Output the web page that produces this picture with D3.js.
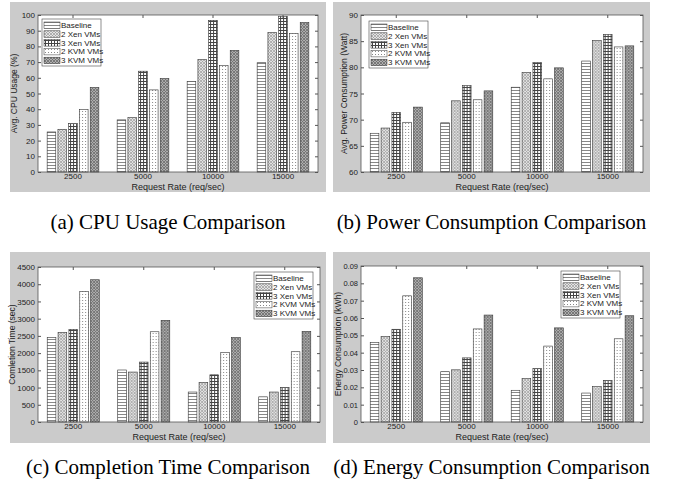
<!DOCTYPE html>
<html>
<head>
<meta charset="utf-8">
<script src="https://cdn.jsdelivr.net/npm/d3@7"></script>
<style>
  body { margin: 0; background: #fff; }
  text { font-family: "Liberation Sans", Arial, sans-serif; fill: #222; }
  .caption { font-family: "Liberation Serif", "Times New Roman", serif; fill: #000; }
</style>
</head>
<body>
<div id="vis"></div>
<script>
// categories and series
const categories = ["2500", "5000", "10000", "15000"];
const seriesNames = ["Baseline", "2 Xen VMs", "3 Xen VMs", "2 KVM VMs", "3 KVM VMs"];

// values per category, one per series (Baseline, 2 Xen, 3 Xen, 2 KVM, 3 KVM)
const cpuUsage = [
  [25.5, 27.2, 30.8, 39.8, 53.8],
  [33.2, 34.6, 64.2, 52.3, 59.5],
  [57.6, 71.6, 96.6, 67.8, 77.4],
  [69.6, 88.8, 99.2, 88.2, 95.2]
];
const powerConsumption = [
  [67.4, 68.4, 71.4, 69.5, 72.4],
  [69.4, 73.6, 76.5, 73.8, 75.5],
  [76.2, 79.0, 80.9, 77.8, 79.9],
  [81.2, 85.1, 86.3, 83.9, 84.1]
];
const completionTime = [
  [2450, 2600, 2690, 3790, 4130],
  [1510, 1450, 1740, 2620, 2950],
  [870, 1150, 1370, 2020, 2450],
  [730, 870, 1000, 2040, 2630]
];
const energyConsumption = [
  [0.0458, 0.0493, 0.0535, 0.0728, 0.0832],
  [0.0290, 0.0301, 0.0370, 0.0537, 0.0617],
  [0.0183, 0.0250, 0.0308, 0.0438, 0.0543],
  [0.0167, 0.0204, 0.0239, 0.0480, 0.0613]
];

// tick values
const cpuTicks = d3.range(0, 101, 10);
const powerTicks = d3.range(60, 91, 5);
const timeTicks = d3.range(0, 4501, 500);
const energyTicks = d3.range(0, 10).map(i => i / 100);

const svg = d3.select("#vis").append("svg")
  .attr("width", 674).attr("height", 480);

// hatch patterns, one per series
const defs = svg.append("defs");
function pattern(id, size, bg, draw) {
  const p = defs.append("pattern").attr("id", id)
    .attr("patternUnits", "userSpaceOnUse")
    .attr("width", size).attr("height", size);
  p.append("rect").attr("width", size).attr("height", size).attr("fill", bg);
  draw(p);
}
pattern("p0", 3, "#fff", p => {
  p.append("line").attr("x1", 0).attr("x2", 3).attr("y1", 0.5).attr("y2", 0.5)
    .attr("stroke", "#888").attr("stroke-width", 1);
});
pattern("p1", 3, "#e4e4e4", p => {
  p.append("path").attr("d", "M0,3L3,0M0,0L3,3").attr("stroke", "#999").attr("stroke-width", 0.7);
});
pattern("p2", 3, "#fff", p => {
  p.append("path").attr("d", "M0,0.5H3M0.5,0V3").attr("stroke", "#444").attr("stroke-width", 1);
});
pattern("p3", 3, "#fff", p => {
  p.append("rect").attr("x", 0).attr("y", 0).attr("width", 1).attr("height", 1).attr("fill", "#888");
});
pattern("p4", 3, "#b0b0b0", p => {
  p.append("path").attr("d", "M0,3L3,0M0,0L3,3").attr("stroke", "#6a6a6a").attr("stroke-width", 0.8);
});
const fills = seriesNames.map((s, i) => `url(#p${i})`);

const panels = [
  { data: cpuUsage, ticks: cpuTicks, domain: [0, 100], fmt: d3.format("d"), ylabel: "Avg. CPU Usage (%)",
    gray: [10, 2, 316, 190], plot: [38, 15, 280, 157], ylabX: -24, tickFont: 8, legendPos: [4, 4],
    caption: "(a) CPU Usage Comparison", capY: 229 },
  { data: powerConsumption, ticks: powerTicks, domain: [60, 90], fmt: d3.format("d"), ylabel: "Avg. Power Consumption (Watt)",
    gray: [333, 2, 317, 190], plot: [361, 15, 282, 157], ylabX: -17, tickFont: 8, legendPos: [8, 6],
    caption: "(b) Power Consumption Comparison", capY: 229 },
  { data: completionTime, ticks: timeTicks, domain: [0, 4500], fmt: d3.format("d"), ylabel: "Comletion Time (sec)",
    gray: [10, 252, 316, 191], plot: [38, 267, 282, 155], ylabX: -26, tickFont: 8, legendPos: [216, 5],
    caption: "(c) Completion Time Comparison", capY: 474 },
  { data: energyConsumption, ticks: energyTicks, domain: [0, 0.09], fmt: d => d === 0 ? "0" : d3.format(".2f")(d), ylabel: "Energy Consumption (kWh)",
    gray: [333, 252, 317, 191], plot: [361, 266, 282, 156], ylabX: -23, tickFont: 7.5, legendPos: [200, 5],
    caption: "(d) Energy Consumption Comparison", capY: 474 }
];

panels.forEach(p => {
  const [gx, gy, gw, gh] = p.gray;
  const [px, py, pw, ph] = p.plot;

  svg.append("rect").attr("x", gx).attr("y", gy).attr("width", gw).attr("height", gh).attr("fill", "#cbcbcb");
  svg.append("rect").attr("x", px).attr("y", py).attr("width", pw).attr("height", ph).attr("fill", "#fff");

  const g = svg.append("g").attr("transform", `translate(${px},${py})`);

  const x0 = d3.scaleBand().domain(categories).range([0, pw]);
  const groupW = x0.bandwidth() * 5 / 6.5;
  const x1 = d3.scaleBand().domain(seriesNames).range([0, groupW]).paddingInner(0.2).paddingOuter(0.1);
  const y = d3.scaleLinear().domain(p.domain).range([ph, 0]);

  // bars
  const groups = g.selectAll("g.grp").data(p.data).join("g")
    .attr("transform", (d, i) => `translate(${x0(categories[i]) + (x0.bandwidth() - groupW) / 2},0)`);
  groups.selectAll("rect").data(d => d.map((v, j) => ({ v, s: seriesNames[j], j }))).join("rect")
    .attr("x", d => x1(d.s))
    .attr("y", d => y(d.v))
    .attr("width", x1.bandwidth())
    .attr("height", d => ph - y(d.v))
    .attr("fill", d => fills[d.j])
    .attr("stroke", "#333").attr("stroke-width", 0.6);

  // axes (inward ticks like matlab)
  const left = g.append("g").call(d3.axisLeft(y).tickValues(p.ticks).tickFormat(p.fmt).tickSize(-3).tickPadding(3));
  const right = g.append("g").attr("transform", `translate(${pw},0)`)
    .call(d3.axisRight(y).tickValues(p.ticks).tickFormat("").tickSize(-3));
  const bottom = g.append("g").attr("transform", `translate(0,${ph})`)
    .call(d3.axisBottom(x0).tickSize(-3).tickPadding(1.5));
  const top = g.append("g").call(d3.axisTop(x0).tickSize(-3).tickFormat(""));
  [left, right, bottom, top].forEach(a => {
    a.select(".domain").remove();
    a.selectAll("line").attr("stroke", "#555");
    a.selectAll("text").style("font-size", "8px").attr("fill", "#222");
  });
  left.selectAll("text").style("font-size", p.tickFont + "px");
  g.append("rect").attr("width", pw).attr("height", ph).attr("fill", "none").attr("stroke", "#555").attr("stroke-width", 0.8);

  // labels
  g.append("text").attr("x", pw / 2).attr("y", ph + 18)
    .attr("text-anchor", "middle").style("font-size", "9px").text("Request Rate (req/sec)");
  g.append("text").attr("transform", `translate(${p.ylabX},${ph / 2}) rotate(-90)`)
    .attr("text-anchor", "middle").attr("dy", "0.35em").style("font-size", "8.5px").text(p.ylabel);

  // legend
  const lw = 59, lh = 47;
  const lg = g.append("g").attr("transform", `translate(${p.legendPos[0]},${p.legendPos[1]})`);
  lg.append("rect").attr("width", lw).attr("height", lh).attr("fill", "#fff").attr("stroke", "#444").attr("stroke-width", 0.6);
  seriesNames.forEach((s, i) => {
    lg.append("rect").attr("x", 2).attr("y", 3 + i * 8.8).attr("width", 16).attr("height", 6.5)
      .attr("fill", fills[i]).attr("stroke", "#333").attr("stroke-width", 0.5);
    lg.append("text").attr("x", 19).attr("y", 9 + i * 8.8).style("font-size", "8px").text(s);
  });

  // caption
  svg.append("text").attr("class", "caption")
    .attr("x", gx + gw / 2).attr("y", p.capY)
    .attr("text-anchor", "middle").style("font-size", "21px").text(p.caption);
});
</script>
</body>
</html>
